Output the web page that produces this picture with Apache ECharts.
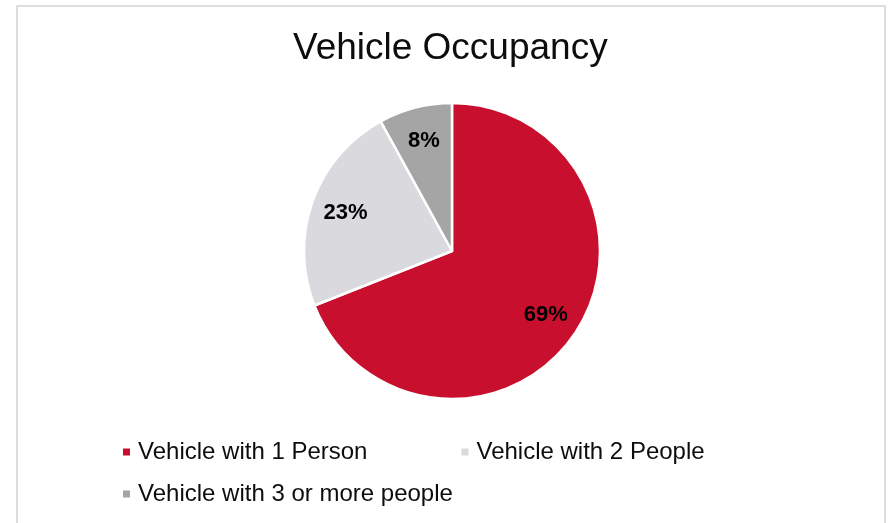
<!DOCTYPE html>
<html>
<head>
<meta charset="utf-8">
<script src="https://cdn.jsdelivr.net/npm/echarts@6/dist/echarts.min.js"></script>
<style>
  html, body { margin: 0; padding: 0; background: #fff; }
  #occupancyPie { width: 892px; height: 523px; }
</style>
</head>
<body>
<div id="occupancyPie"></div>
<script>
  // chart data
  var categories = ['Vehicle with 1 Person', 'Vehicle with 2 People', 'Vehicle with 3 or more people'];
  var shares = [69, 23, 8];
  var sliceColors = ['#c8102e', '#d9d9de', '#a5a5a5'];

  var pieCenter = ['452', '251'];
  var pieRadius = 148;

  var pieData = categories.map(function (name, i) {
    return { name: name, value: shares[i], itemStyle: { color: sliceColors[i] } };
  });

  // transparent ring only used to put the % labels further out than the default 'inside'
  var labelData = categories.map(function (name, i) {
    return { name: name, value: shares[i] };
  });

  var legendText = {
    fontFamily: 'Liberation Sans, Arial, sans-serif',
    fontSize: 24,
    color: '#0d0d0d',
    lineHeight: 24,
    padding: [0, 0, 0, 2]
  };

  var chart = echarts.init(document.getElementById('occupancyPie'));

  var option = {
    animation: false,
    title: {
      text: 'Vehicle Occupancy',
      left: 288,
      top: 25,
      textStyle: {
        fontFamily: 'Liberation Sans, Arial, sans-serif',
        fontSize: 37,
        fontWeight: 'normal',
        color: '#0d0d0d'
      }
    },
    graphic: [{
      type: 'rect',
      silent: true,
      shape: { x: 17, y: 6, width: 868, height: 540 },
      style: { fill: 'none', stroke: '#dedede', lineWidth: 2 }
    }],
    legend: [{
      data: [categories[0], categories[1]],
      left: 121,
      top: 440,
      padding: 0,
      icon: 'rect',
      itemWidth: 9,
      itemHeight: 9,
      itemGap: 92,
      selectedMode: false,
      textStyle: legendText
    }, {
      data: [categories[2]],
      left: 121,
      top: 482,
      padding: 0,
      icon: 'rect',
      itemWidth: 9,
      itemHeight: 9,
      selectedMode: false,
      textStyle: legendText
    }],
    series: [{
      name: 'Vehicle Occupancy',
      type: 'pie',
      center: pieCenter,
      radius: [0, pieRadius],
      startAngle: 90,
      clockwise: true,
      silent: true,
      itemStyle: { borderColor: '#ffffff', borderWidth: 2.5 },
      label: { show: false },
      labelLine: { show: false },
      data: pieData
    }, {
      name: 'labels',
      type: 'pie',
      center: pieCenter,
      radius: [pieRadius * 0.49, pieRadius],
      startAngle: 90,
      clockwise: true,
      silent: true,
      itemStyle: { color: 'rgba(0,0,0,0)' },
      label: {
        show: true,
        position: 'inside',
        formatter: '{c}%',
        fontFamily: 'Liberation Sans, Arial, sans-serif',
        fontSize: 22,
        fontWeight: 'bold',
        color: '#000'
      },
      labelLine: { show: false },
      data: labelData
    }]
  };

  chart.setOption(option);
</script>
</body>
</html>
